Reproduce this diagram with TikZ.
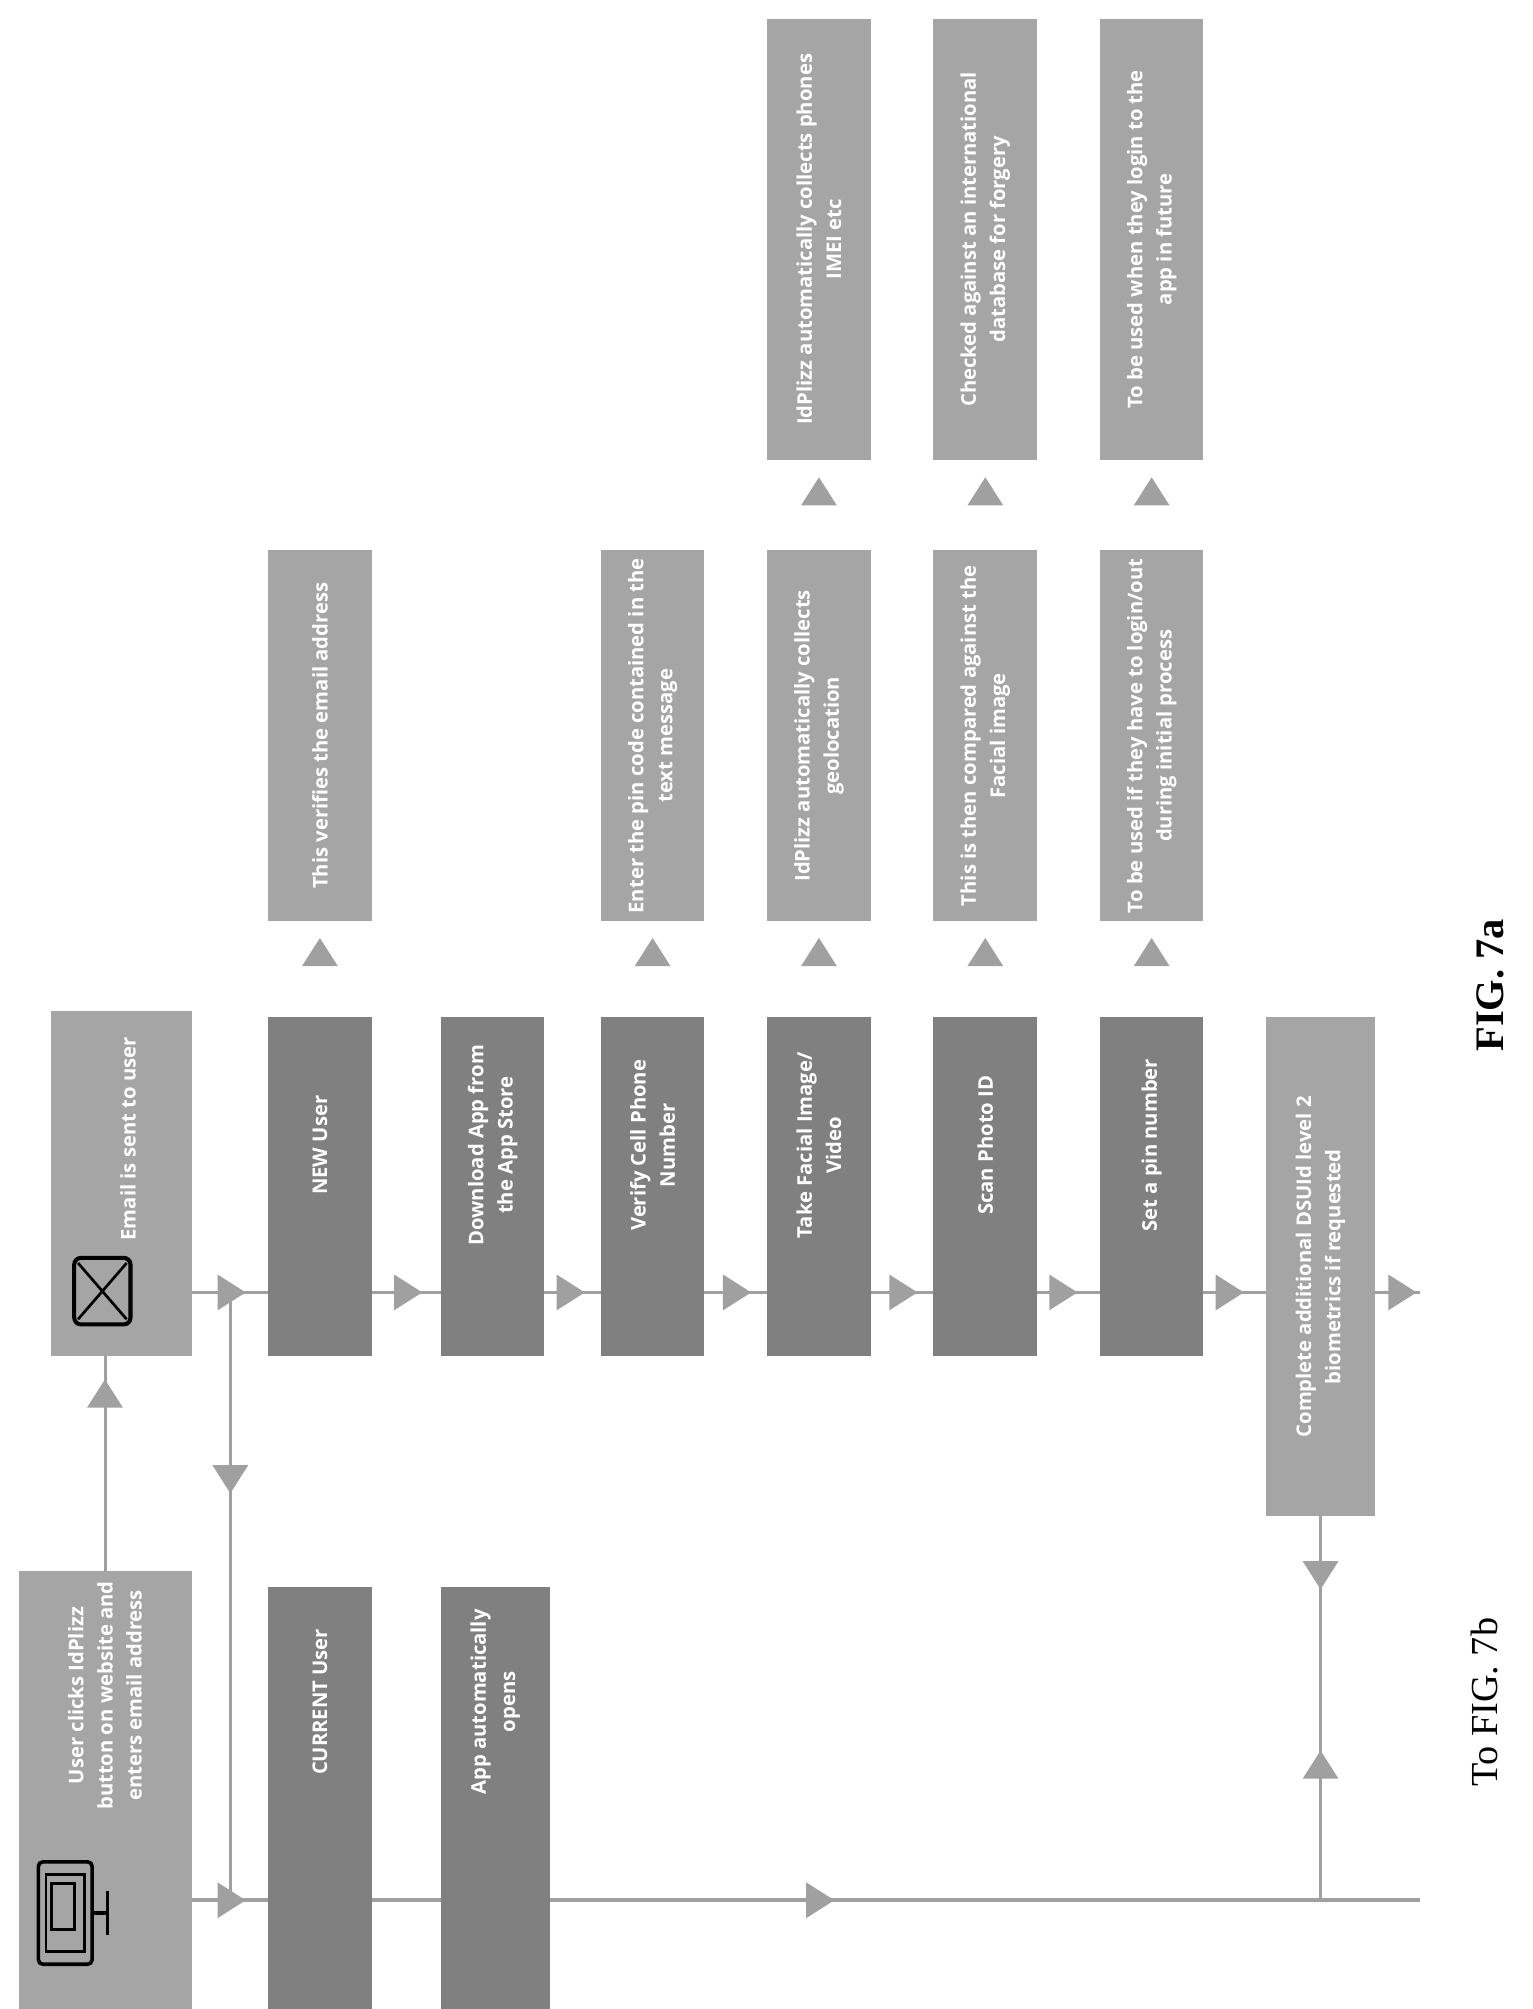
\documentclass[tikz,border=0pt]{standalone}
\usepackage{fontspec}
\setmainfont{Open Sans}
\newfontfamily\figfont{Liberation Serif}
\usepackage{tikz}
\usetikzlibrary{positioning, backgrounds}
\definecolor{boxdark}{RGB}{128,128,128}
\definecolor{boxlight}{RGB}{165,165,165}
\definecolor{flowgray}{RGB}{160,160,160}

\newcommand{\flowtri}[3]{\fill[flowgray, shift={(#1,#2)}, rotate=#3] (12,0) -- (-10,-14) -- (-10,14) -- cycle;}

\begin{document}
\begin{tikzpicture}[
    x=0.02cm, y=-0.02cm,
    stepbox/.style={rectangle, fill=boxdark, rotate=90, minimum width=5.3cm, minimum height=1.62cm, inner sep=0pt},
    notebox/.style={rectangle, fill=boxlight, rotate=90, minimum height=1.62cm, inner sep=0pt},
    lbl/.style={rotate=90, text=white, align=center, font=\fontsize{9}{13}\selectfont\bfseries},
    flow/.style={draw=flowgray, line width=1.6pt}
]
    \useasboundingbox (0,0) rectangle (1198,1570);

    % Start boxes
    \node[notebox, minimum width=6.84cm, minimum height=2.7cm] (click) at (82.5,1399) {};
    \node[lbl] at (82,1325) {User clicks IdPlizz\\button on website and\\enters email address};
    \node[notebox, minimum width=5.4cm, minimum height=2.2cm] (email) at (95,925) {};
    \node[lbl] at (100,890) {Email is sent to user};

    % Icons
    \draw[black, line width=1.6pt, rounded corners=2pt] (30,1455) rectangle (72,1535);
    \draw[black, line width=1.2pt] (36,1465) rectangle (66,1525);
    \draw[black, line width=1.2pt] (40,1472) rectangle (58,1508);
    \draw[black, line width=1.6pt] (72,1495) -- (84,1495) (84,1478) -- (84,1512);
    \draw[black, line width=1.8pt, rounded corners=3pt] (58,983) rectangle (102,1035);
    \draw[black, line width=1.2pt] (61,987) -- (99,1031) (61,1031) -- (99,987);

    % Current user branch
    \node[stepbox, minimum width=6.6cm] (current) at (250,1405) {};
    \node[lbl] at (250,1330) {CURRENT User};
    \node[stepbox, minimum width=6.6cm, minimum height=1.7cm] (opens) at (387,1405) {};
    \node[lbl] at (387,1330) {App automatically\\opens};

    % New user steps
    \foreach \nm/\px/\txt in {newuser/250/NEW User,
        download/385/Download App from\\the App Store,
        verify/510/Verify Cell Phone\\Number,
        facial/640/{Take Facial Image/\\Video},
        scan/770/Scan Photo ID,
        pin/900/Set a pin number}{
        \node[stepbox] (\nm) at (\px,927) {};
        \node[lbl] at (\px,895) {\txt};
    }
    \node[stepbox, minimum width=7.8cm, minimum height=1.7cm, fill=boxlight] (complete) at (1032,990) {};
    \node[lbl] at (1032,990) {Complete additional DSUId level 2\\biometrics if requested};

    % Notes
    \foreach \nm/\px/\txt in {notemail/250/This verifies the email address,
        notepin/510/Enter the pin code contained in the\\text message,
        notegeo/640/IdPlizz automatically collects\\geolocation,
        noteface/770/This is then compared against the\\Facial image,
        notelog/900/{To be used if they have to login/out\\during initial process}}{
        \node[notebox, minimum width=5.8cm] (\nm) at (\px,575) {};
        \node[lbl] at (\px,575) {\txt};
    }
    \foreach \nm/\px/\txt in {noteimei/640/IdPlizz automatically collects phones\\IMEI etc,
        noteforge/770/Checked against an international\\database for forgery,
        notefut/900/To be used when they login to the\\app in future}{
        \node[notebox, minimum width=6.9cm] (\nm) at (\px,187) {};
        \node[lbl] at (\px,187) {\txt};
    }

    % Connectors
    \coordinate (endA) at (1110,1010);
    \coordinate (endB) at (1110,1485);
    \coordinate (jA) at (180,1010);
    \begin{pgfonlayer}{background}
        \draw[flow] (email.center |- endA) -- (endA);
        \draw[flow] (click.center |- endB) -- (endB);
        \draw[flow] (jA) -- (jA |- endB);
        \draw[flow] (click.center) -- (click.center |- email.center);
        \draw[flow] (complete.center) -- (complete.center |- endB);
    \end{pgfonlayer}

    % Arrow heads
    \foreach \px in {180,318,445,575,705,830,960,1095}{\flowtri{\px}{1010}{0}}
    \foreach \px in {180,640}{\flowtri{\px}{1485}{0}}
    \flowtri{180}{1155}{270}
    \flowtri{82}{1090}{90}
    \flowtri{1032}{1230}{270}
    \flowtri{1032}{1380}{90}
    \foreach \px in {250,510,640,770,900}{\flowtri{\px}{745}{90}}
    \foreach \px in {640,770,900}{\flowtri{\px}{385}{90}}

    % Captions
    \node[rotate=90, font=\figfont\fontsize{17}{20}\selectfont] (tofig) at (1160,1330) {To FIG. 7b};
    \node[rotate=90, font=\figfont\fontsize{18}{20}\selectfont\bfseries] (figa) at (1165,770) {FIG. 7a};
\end{tikzpicture}
\end{document}
